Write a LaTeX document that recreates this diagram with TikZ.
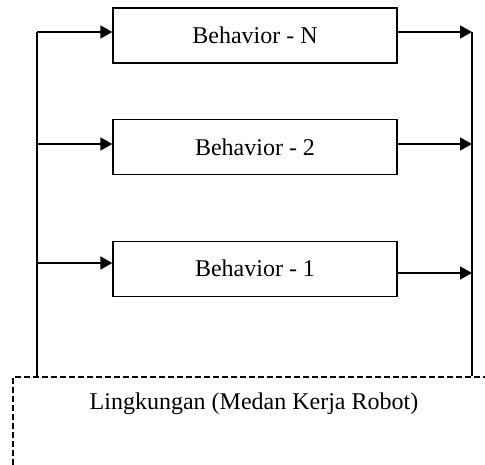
\documentclass[tikz,border=0pt]{standalone}
\usepackage{fontspec}
\setmainfont{Liberation Serif}
\usetikzlibrary{arrows.meta}
\begin{document}
\begin{tikzpicture}[x=1pt,y=-1pt,
  behbox/.style={draw, line width=1.3pt, minimum width=284pt, minimum height=55pt, inner sep=0pt, font=\fontsize{24}{27}\selectfont},
  wire/.style={line width=1.7pt},
  arr/.style={line width=1.7pt, -{Triangle[length=12pt,width=13pt]}},
  envline/.style={line width=1.1pt, dash pattern=on 6pt off 3pt}]
\useasboundingbox (0,0) rectangle (485,465);
\node[behbox] (bN) at (255,35.5) {Behavior - N};
\node[behbox] (b2) at (255,147) {Behavior - 2};
\node[behbox] (b1) at (255,268.7) {Behavior - 1};
\node[font=\fontsize{24}{27}\selectfont] (env) at (254,404) {Lingkungan (Medan Kerja Robot)};
% left bus
\coordinate (LT) at (37,32);
\coordinate (LB) at (37,376);
\coordinate (L2) at (37,144);
\coordinate (L1) at (37,263);
% right bus
\coordinate (RT) at (472,32);
\coordinate (RB) at (472,376);
\coordinate (R2) at (472,144);
\coordinate (R1) at (472,273);
\draw[wire] (LB) -- (LT);
\draw[wire] (RB) -- (RT);
\draw[arr] (LT) -- (LT -| bN.west);
\draw[arr] (L2) -- (L2 -| b2.west);
\draw[arr] (L1) -- (L1 -| b1.west);
\draw[arr] (RT -| bN.east) -- (RT);
\draw[arr] (R2 -| b2.east) -- (R2);
\draw[arr] (R1 -| b1.east) -- (R1);
% environment frame
\draw[envline] (13,465) -- (13,377) -- (485,377);
\end{tikzpicture}
\end{document}
